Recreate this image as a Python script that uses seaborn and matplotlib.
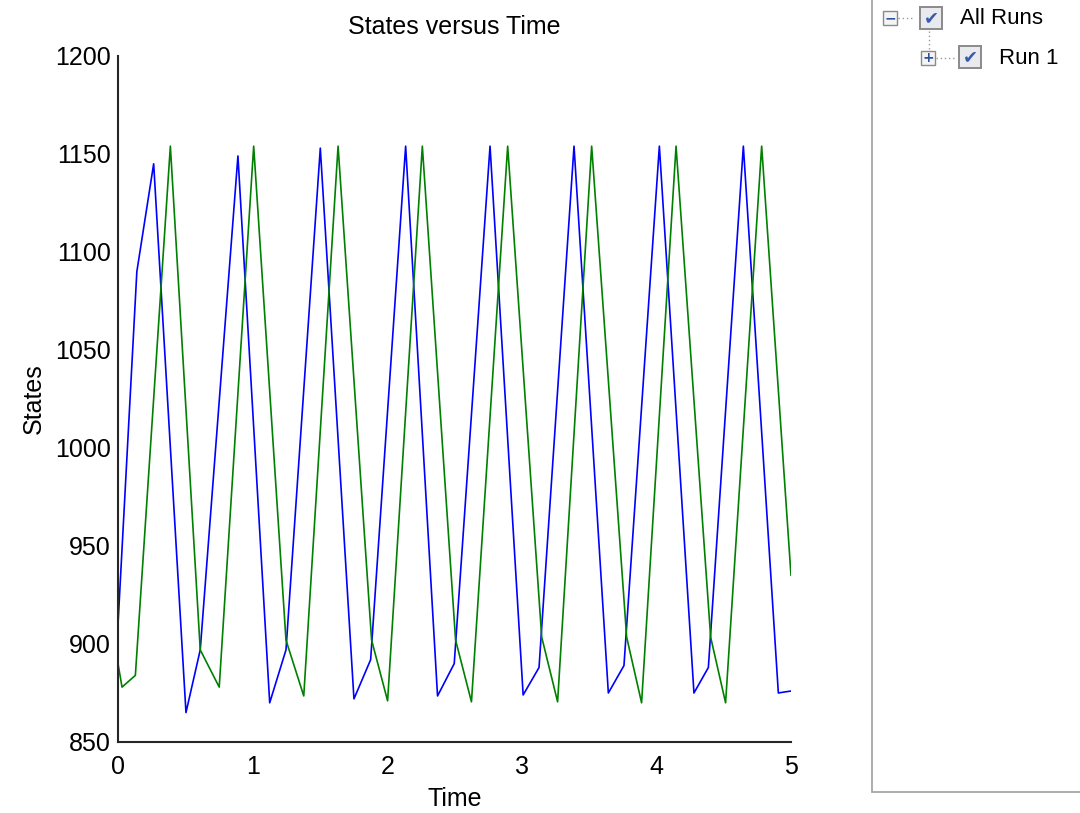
import pandas as pd
import matplotlib
matplotlib.use("Agg")
import matplotlib.pyplot as plt
from matplotlib.patches import Rectangle
from matplotlib.lines import Line2D
import seaborn as sns

# vertices (time, state)
blue_t = [0, 0.14, 0.265, 0.505, 0.611, 0.891, 1.127, 1.248, 1.503, 1.753, 1.877,
          2.137, 2.374, 2.498, 2.764, 3.01, 3.128, 3.388, 3.643, 3.759, 4.022,
          4.279, 4.386, 4.646, 4.906, 4.95, 5.0]
blue_v = [910, 1090, 1145, 865, 897, 1149, 870, 897, 1153, 872, 892,
          1154, 873.5, 890, 1154, 874, 888, 1154, 875, 889, 1154,
          875, 888, 1154, 875, 875.5, 876]

green_t = [0, 0.03, 0.129, 0.389, 0.611, 0.752, 1.008, 1.248, 1.38, 1.635, 1.884,
           2.003, 2.261, 2.508, 2.626, 2.895, 3.148, 3.266, 3.519, 3.779, 3.89,
           4.146, 4.403, 4.514, 4.782, 5.0]
green_v = [890, 878, 884, 1154, 897, 878, 1154, 902, 873.5, 1154, 902,
           871, 1154, 902, 870.5, 1154, 903.5, 870.5, 1154, 903.5, 870,
           1154, 903.5, 870, 1154, 935]

x_ticks = [0, 1, 2, 3, 4, 5]
y_ticks = [850, 900, 950, 1000, 1050, 1100, 1150, 1200]
tree_labels = ["All Runs", "Run 1"]

df = pd.concat([
    pd.DataFrame({"Time": blue_t, "States": blue_v, "sig": "x1"}),
    pd.DataFrame({"Time": green_t, "States": green_v, "sig": "x2"}),
])

sns.set_style("white")
plt.rcParams["font.family"] = ["Liberation Sans", "DejaVu Sans"]
plt.rcParams["text.color"] = "black"
plt.rcParams["axes.labelcolor"] = "black"

fig = plt.figure(figsize=(10.8, 8.13), dpi=100)
ax = fig.add_axes([118 / 1080, 71 / 813, 673 / 1080, 686 / 813])

sns.lineplot(data=df, x="Time", y="States", hue="sig", palette={"x1": "#0000ff", "x2": "#008000"},
             estimator=None, sort=False, linewidth=1.2, legend=False, ax=ax)

ax.set_xlim(0, 5)
ax.set_ylim(850, 1200)
ax.set_xticks(x_ticks)
ax.set_yticks(y_ticks)
ax.tick_params(direction="in", length=5, width=1.3, labelsize=18, pad=5, colors="#262626",
               labelcolor="black")
ax.tick_params(axis="x", pad=9)
for s in ["top", "right"]:
    ax.spines[s].set_visible(False)
for s in ["left", "bottom"]:
    ax.spines[s].set_color("#262626")
    ax.spines[s].set_linewidth(1.5)
ax.set_title("States versus Time", fontsize=18, pad=16, color="black")
ax.set_xlabel("Time", fontsize=18, labelpad=6)
ax.set_ylabel("States", fontsize=18, labelpad=7)

# right-hand run browser panel
W, H = 1080, 813
def fx(x):
    return x / W
def fy(y):
    return 1 - y / H

fig.add_artist(Line2D([fx(872), fx(872)], [fy(0), fy(792)], color="#a0a0a0", lw=1.2))
fig.add_artist(Line2D([fx(872), fx(1080)], [fy(792), fy(792)], color="#a0a0a0", lw=1.2))

def expander(x, y, sign):
    fig.add_artist(Rectangle((fx(x), fy(y + 14)), 14 / W, 14 / H, facecolor="#f4f4f4",
                             edgecolor="#8a8a8a", lw=1))
    fig.text(fx(x + 7), fy(y + 7), sign, ha="center", va="center", fontsize=10,
             color="#3050a0", family="DejaVu Sans", fontweight="bold")

def checkbox(x, y):
    fig.add_artist(Rectangle((fx(x), fy(y + 22)), 22 / W, 22 / H, facecolor="#e8eaee",
                             edgecolor="#8a8a8a", lw=1.4))
    fig.text(fx(x + 11), fy(y + 11), "\u2714", ha="center", va="center", fontsize=13,
             color="#3a5ab0", family="DejaVu Sans")

expander(883, 11, "\u2212")
fig.add_artist(Line2D([fx(898), fx(914)], [fy(18), fy(18)], color="#9a9a9a", lw=1, ls=(0, (1, 2))))
checkbox(920, 7)
fig.text(fx(960), fy(19), tree_labels[0], ha="left", va="center", fontsize=16)

fig.add_artist(Line2D([fx(929), fx(929)], [fy(31), fy(49)], color="#9a9a9a", lw=1, ls=(0, (1, 2))))
expander(921, 51, "+")
fig.add_artist(Line2D([fx(936), fx(954)], [fy(58), fy(58)], color="#9a9a9a", lw=1, ls=(0, (1, 2))))
checkbox(959, 46)
fig.text(fx(999), fy(59), tree_labels[1], ha="left", va="center", fontsize=16)

fig.savefig("out.png", dpi=100)
